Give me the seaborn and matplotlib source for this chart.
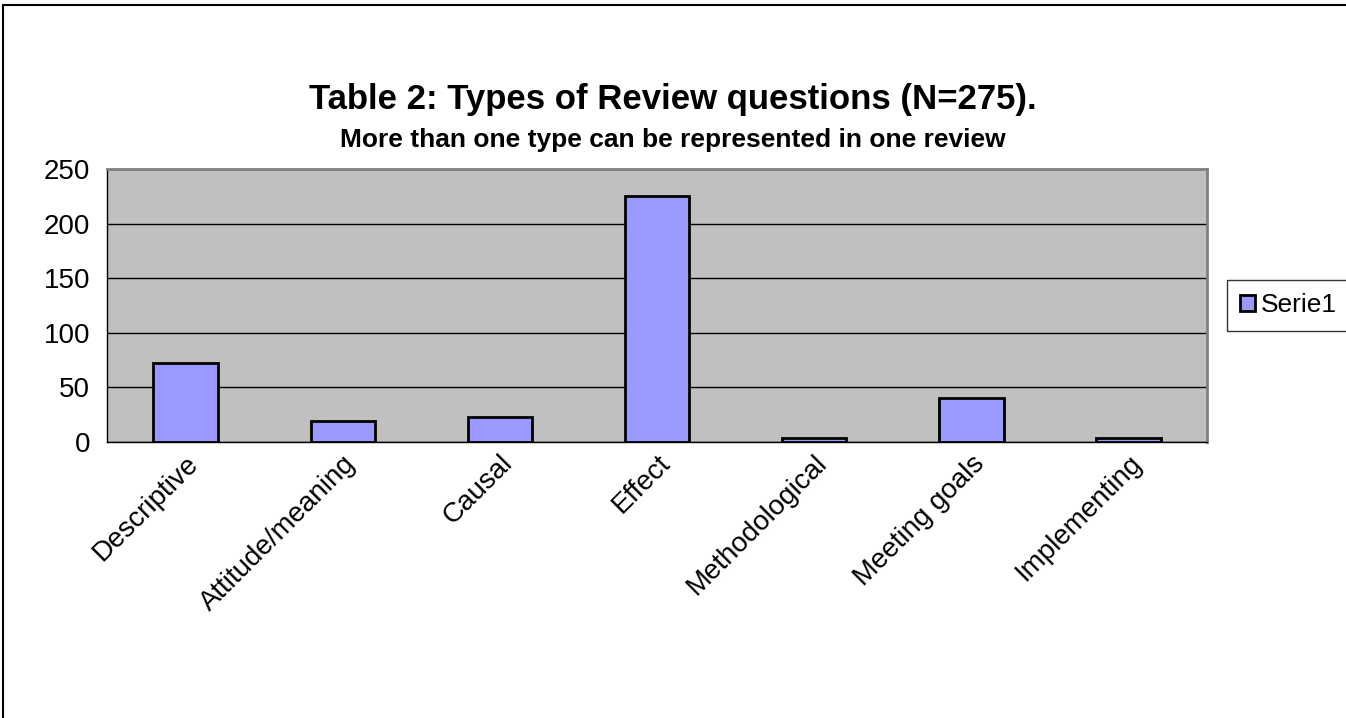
import matplotlib
matplotlib.use("Agg")
import matplotlib.pyplot as plt
from matplotlib.patches import Rectangle
from matplotlib.ticker import FixedLocator, MultipleLocator
import pandas as pd
import seaborn as sns

# data
categories = ["Descriptive", "Attitude/meaning", "Causal", "Effect",
              "Methodological", "Meeting goals", "Implementing"]
counts = [72, 19, 23, 225, 4, 40, 4]
series_name = "Serie1"
title = "Table 2: Types of Review questions (N=275)."
subtitle = "More than one type can be represented in one review"

df = pd.DataFrame({"type": categories, "count": counts})

sns.set_theme(style="white")
plt.rcParams["font.family"] = ["Liberation Sans", "DejaVu Sans"]
plt.rcParams["text.color"] = "black"
plt.rcParams["xtick.color"] = "black"
plt.rcParams["ytick.color"] = "black"

fig = plt.figure(figsize=(13.46, 7.18), dpi=100)
ax = fig.add_axes([107 / 1346, 1 - 442 / 718, 1100 / 1346, 273 / 718])
ax.set_facecolor("#C0C0C0")

sns.barplot(data=df, x="type", y="count", color="#9999FF", saturation=1,
            edgecolor="black", linewidth=2, width=0.41, label=series_name,
            ax=ax, zorder=3)

ax.set_ylim(0, 250)
ax.set_xlim(-0.5, len(categories) - 0.5)
ax.yaxis.set_major_locator(MultipleLocator(50))
ax.grid(axis="y", color="black", linewidth=1, zorder=0)
ax.set_axisbelow(True)
ax.set_xlabel("")
ax.set_ylabel("")

# ticks between categories, labels under the bars
ax.xaxis.set_minor_locator(FixedLocator([i - 0.5 for i in range(len(categories) + 1)]))
ax.tick_params(axis="x", which="major", length=0, pad=6, labelsize=20)
ax.tick_params(axis="x", which="minor", length=10, width=1, color="black", direction="out")
ax.tick_params(axis="y", length=9, width=1, color="black", direction="out", labelsize=20, pad=3)
plt.setp(ax.get_xticklabels(), rotation=45, ha="right", rotation_mode="anchor")

for side in ["left", "bottom"]:
    ax.spines[side].set_color("black")
    ax.spines[side].set_linewidth(1)
for side in ["top", "right"]:
    ax.spines[side].set_color("#808080")
    ax.spines[side].set_linewidth(2)

leg = ax.legend(loc="center left", bbox_to_anchor=(1.018, 0.5), frameon=True,
                fancybox=False, edgecolor="black", fontsize=19,
                handlelength=0.55, handleheight=0.55, handletextpad=0.25,
                borderpad=0.5, borderaxespad=0)
leg.get_frame().set_linewidth(1)

fig.text(0.5, 1 - 100 / 718, title, ha="center", va="center",
         fontsize=25, fontweight="bold")
fig.text(0.5, 1 - 140 / 718, subtitle, ha="center", va="center",
         fontsize=19, fontweight="bold")

# outer chart border (right and bottom fall outside the image)
fig.add_artist(Rectangle((3 / 1346, -0.05), 1.2, 1 - 5 / 718 + 0.05,
                         transform=fig.transFigure, fill=False,
                         edgecolor="black", linewidth=1.5))

fig.savefig("out.png", dpi=100)
